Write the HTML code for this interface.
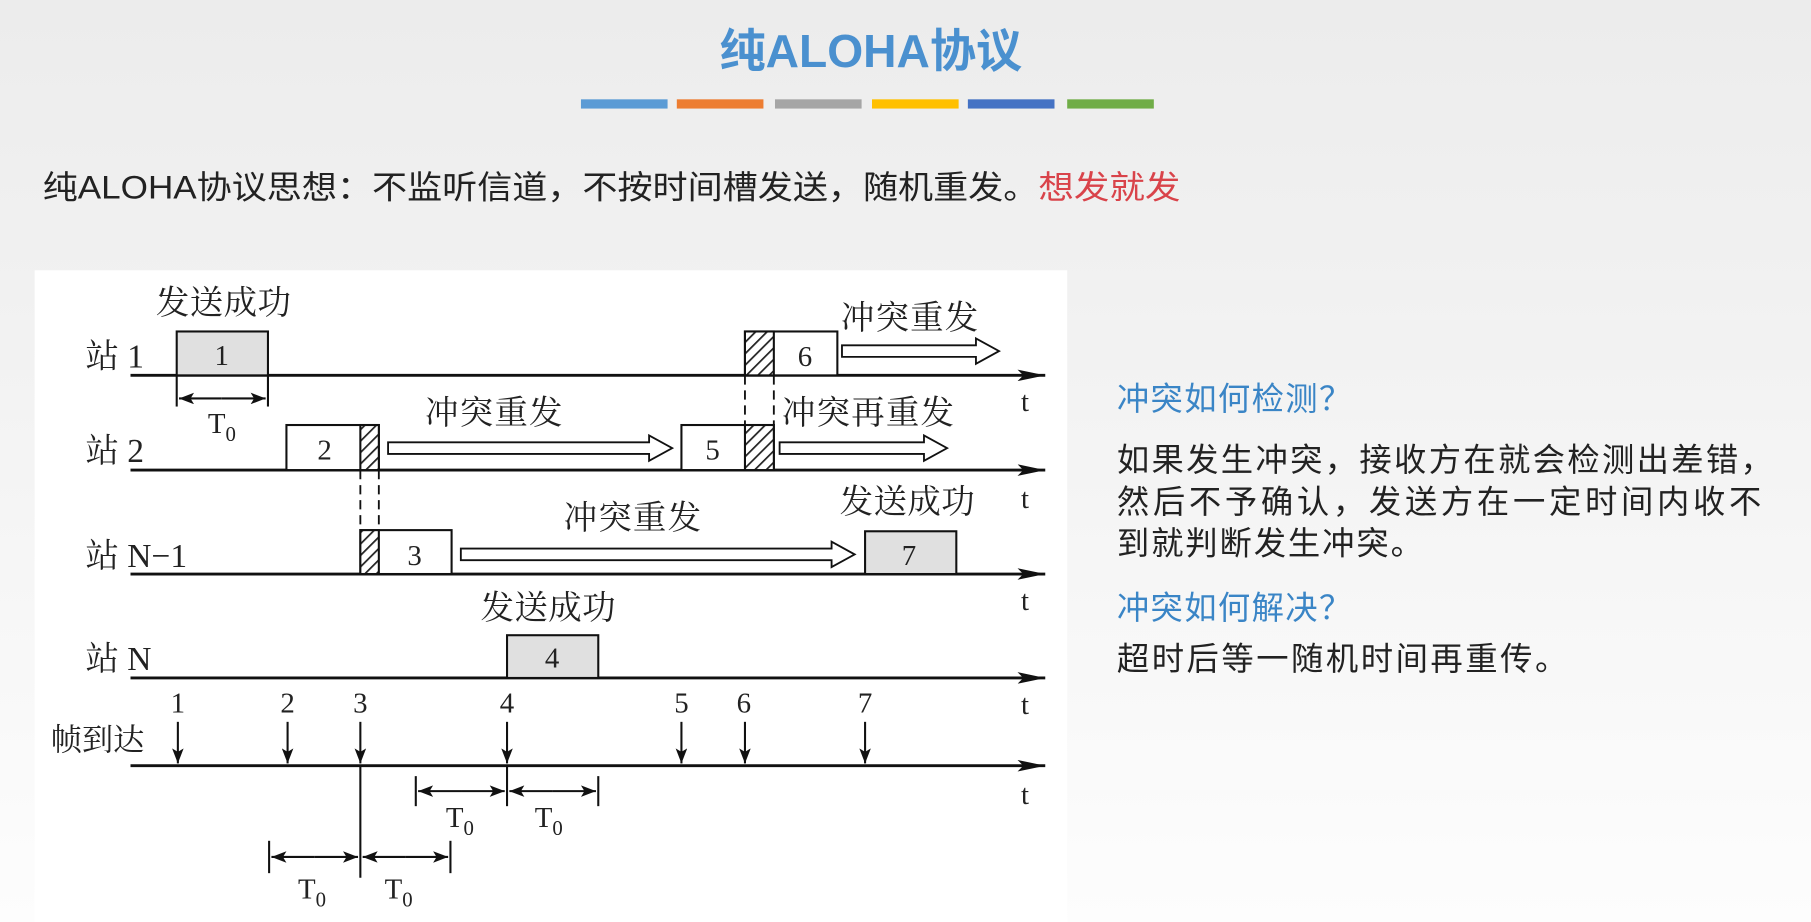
<!DOCTYPE html>
<html><head><meta charset="utf-8"><style>
html,body{margin:0;padding:0;width:1811px;height:922px;overflow:hidden;background:#f3f3f3}
svg{display:block}
.s{font-family:"Liberation Serif","Noto Serif CJK SC",serif;fill:#222}
.h{font-family:"Liberation Sans","Noto Sans CJK SC",sans-serif}
</style></head><body>
<svg width="1811" height="922" viewBox="0 0 1568 798.3" preserveAspectRatio="none" xmlns="http://www.w3.org/2000/svg">
<defs>
<linearGradient id="bg" x1="0" y1="0" x2="0" y2="1"><stop offset="0" stop-color="#ececec"/><stop offset="0.5" stop-color="#f4f4f4"/><stop offset="1" stop-color="#fdfdfd"/></linearGradient>
<pattern id="hat" width="7" height="7" patternUnits="userSpaceOnUse" patternTransform="rotate(45)"><rect width="7" height="7" fill="#fff"/><line x1="0" y1="0" x2="0" y2="7" stroke="#222" stroke-width="3"/></pattern>
<marker id="ah" markerWidth="13" markerHeight="10" refX="13" refY="5" orient="auto" markerUnits="userSpaceOnUse"><path d="M0,0 L13,5 L0,10 L3,5z" fill="#111"/></marker>
<marker id="bh" markerWidth="24" markerHeight="10" refX="24" refY="5" orient="auto" markerUnits="userSpaceOnUse"><path d="M0,0 L24,5 L0,10 L5,5z" fill="#111"/></marker>
</defs>
<rect width="1568" height="798.3" fill="url(#bg)"/>
<text x="754" y="58" text-anchor="middle" class="h" font-size="40" font-weight="bold" fill="#4a90cf">纯ALOHA协议</text>
<rect x="503" y="86" width="75" height="8" fill="#5b9bd5"/>
<rect x="586" y="86" width="75" height="8" fill="#ed7d31"/>
<rect x="671" y="86" width="75" height="8" fill="#a5a5a5"/>
<rect x="755" y="86" width="75" height="8" fill="#ffc000"/>
<rect x="838" y="86" width="75" height="8" fill="#4472c4"/>
<rect x="924" y="86" width="75" height="8" fill="#70ad47"/>
<text x="37" y="172" class="h" font-size="28" fill="#222" textLength="862" lengthAdjust="spacingAndGlyphs">纯ALOHA协议思想：不监听信道，不按时间槽发送，随机重发。</text>
<text x="899" y="172" class="h" font-size="28" fill="#d9434a" textLength="123" lengthAdjust="spacingAndGlyphs">想发就发</text>
<rect x="30" y="234" width="894" height="565" fill="#fff"/>
<g stroke="#111" stroke-width="2.5" fill="none">
<line x1="113" y1="325" x2="905" y2="325" marker-end="url(#bh)"/>
<line x1="113" y1="407" x2="905" y2="407" marker-end="url(#bh)"/>
<line x1="113" y1="497" x2="905" y2="497" marker-end="url(#bh)"/>
<line x1="113" y1="587" x2="905" y2="587" marker-end="url(#bh)"/>
<line x1="113" y1="663" x2="905" y2="663" marker-end="url(#bh)"/>
</g>
<g stroke="#111" stroke-width="1.8">
<rect x="153" y="287" width="79" height="38" fill="#e0e0e0"/>
<rect x="248" y="368" width="80" height="39" fill="#fff"/>
<rect x="312" y="368" width="16" height="39" fill="url(#hat)"/>
<rect x="590" y="368" width="80" height="39" fill="#fff"/>
<rect x="645" y="368" width="25" height="39" fill="url(#hat)"/>
<rect x="645" y="287" width="80" height="38" fill="#fff"/>
<rect x="645" y="287" width="25" height="38" fill="url(#hat)"/>
<rect x="312" y="459" width="79" height="38" fill="#fff"/>
<rect x="312" y="459" width="16" height="38" fill="url(#hat)"/>
<rect x="749" y="460" width="79" height="37" fill="#e0e0e0"/>
<rect x="439" y="550" width="79" height="37" fill="#e0e0e0"/>
</g>
<g stroke="#111" stroke-width="1.6" stroke-dasharray="8,5">
<line x1="312" y1="407" x2="312" y2="459"/><line x1="328" y1="407" x2="328" y2="459"/>
<line x1="645" y1="325" x2="645" y2="368"/><line x1="670" y1="325" x2="670" y2="368"/>
</g>
<g stroke="#111" stroke-width="1.6" fill="#fff">
<path d="M729,299 H845 V293 L865,304 L845,315 V309 H729 Z"/>
<path d="M336,383 H562 V377 L582,388 L562,399 V393 H336 Z"/>
<path d="M675,383 H800 V377 L820,388 L800,399 V393 H675 Z"/>
<path d="M399,475 H720 V469 L740,480 L720,491 V485 H399 Z"/>
</g>
<g class="s" font-size="25" text-anchor="middle">
<text x="192" y="316">1</text><text x="281" y="398">2</text><text x="617" y="398">5</text>
<text x="697" y="317">6</text><text x="359" y="489">3</text><text x="787" y="489">7</text><text x="478" y="578">4</text>
</g>
<g class="s" font-size="29" lengthAdjust="spacingAndGlyphs">
<text x="135" y="272" textLength="117">发送成功</text><text x="728" y="285" textLength="119">冲突重发</text>
<text x="368" y="367" textLength="119">冲突重发</text><text x="677" y="367" textLength="149">冲突再重发</text>
<text x="488" y="458" textLength="119">冲突重发</text><text x="727" y="444" textLength="117">发送成功</text>
<text x="416" y="536" textLength="117">发送成功</text>
<text x="74" y="318">站 1</text><text x="74" y="400">站 2</text><text x="74" y="491">站 N−1</text><text x="74" y="580">站 N</text>
<text x="44" y="650" font-size="27">帧到达</text>
</g>
<g class="s" font-size="25"><text x="884" y="356">t</text><text x="884" y="440">t</text><text x="884" y="528">t</text><text x="884" y="618">t</text><text x="884" y="696">t</text></g>
<g class="s" font-size="25" text-anchor="middle">
<text x="154" y="617">1</text><text x="249" y="617">2</text><text x="312" y="617">3</text><text x="439" y="617">4</text><text x="590" y="617">5</text><text x="644" y="617">6</text><text x="749" y="617">7</text>
</g>
<g stroke="#111" stroke-width="1.8">
<line x1="154" y1="625" x2="154" y2="661" marker-end="url(#ah)"/>
<line x1="249" y1="625" x2="249" y2="661" marker-end="url(#ah)"/>
<line x1="312" y1="625" x2="312" y2="661" marker-end="url(#ah)"/>
<line x1="439" y1="625" x2="439" y2="661" marker-end="url(#ah)"/>
<line x1="590" y1="625" x2="590" y2="661" marker-end="url(#ah)"/>
<line x1="645" y1="625" x2="645" y2="661" marker-end="url(#ah)"/>
<line x1="749" y1="625" x2="749" y2="661" marker-end="url(#ah)"/>
<line x1="153" y1="325" x2="153" y2="352"/><line x1="232" y1="325" x2="232" y2="352"/>
<line x1="192" y1="345" x2="155" y2="345" marker-end="url(#ah)"/><line x1="192" y1="345" x2="230" y2="345" marker-end="url(#ah)"/>
<line x1="360" y1="672" x2="360" y2="698"/><line x1="439" y1="663" x2="439" y2="698"/><line x1="518" y1="672" x2="518" y2="698"/>
<line x1="400" y1="685" x2="362" y2="685" marker-end="url(#ah)"/><line x1="400" y1="685" x2="437" y2="685" marker-end="url(#ah)"/>
<line x1="478" y1="685" x2="441" y2="685" marker-end="url(#ah)"/><line x1="478" y1="685" x2="516" y2="685" marker-end="url(#ah)"/>
<line x1="312" y1="663" x2="312" y2="760"/>
<line x1="233" y1="728" x2="233" y2="756"/><line x1="390" y1="728" x2="390" y2="756"/>
<line x1="272" y1="742" x2="235" y2="742" marker-end="url(#ah)"/><line x1="272" y1="742" x2="310" y2="742" marker-end="url(#ah)"/>
<line x1="351" y1="742" x2="314" y2="742" marker-end="url(#ah)"/><line x1="351" y1="742" x2="388" y2="742" marker-end="url(#ah)"/>
</g>
<g class="s" font-size="25">
<text x="180" y="375">T<tspan font-size="18" dy="7">0</tspan></text>
<text x="386" y="716">T<tspan font-size="18" dy="7">0</tspan></text>
<text x="463" y="716">T<tspan font-size="18" dy="7">0</tspan></text>
<text x="258" y="778">T<tspan font-size="18" dy="7">0</tspan></text>
<text x="333" y="778">T<tspan font-size="18" dy="7">0</tspan></text>
</g>
<g class="h" font-size="28" fill="#222" lengthAdjust="spacingAndGlyphs">
<text x="967" y="355" fill="#3a85c6" textLength="203">冲突如何检测？</text>
<text x="967" y="408" textLength="568">如果发生冲突，接收方在就会检测出差错，</text>
<text x="967" y="444" textLength="558">然后不予确认，发送方在一定时间内收不</text>
<text x="967" y="480" textLength="265">到就判断发生冲突。</text>
<text x="967" y="536" fill="#3a85c6" textLength="203">冲突如何解决？</text>
<text x="967" y="580" textLength="390">超时后等一随机时间再重传。</text>
</g>
</svg>
</body></html>
